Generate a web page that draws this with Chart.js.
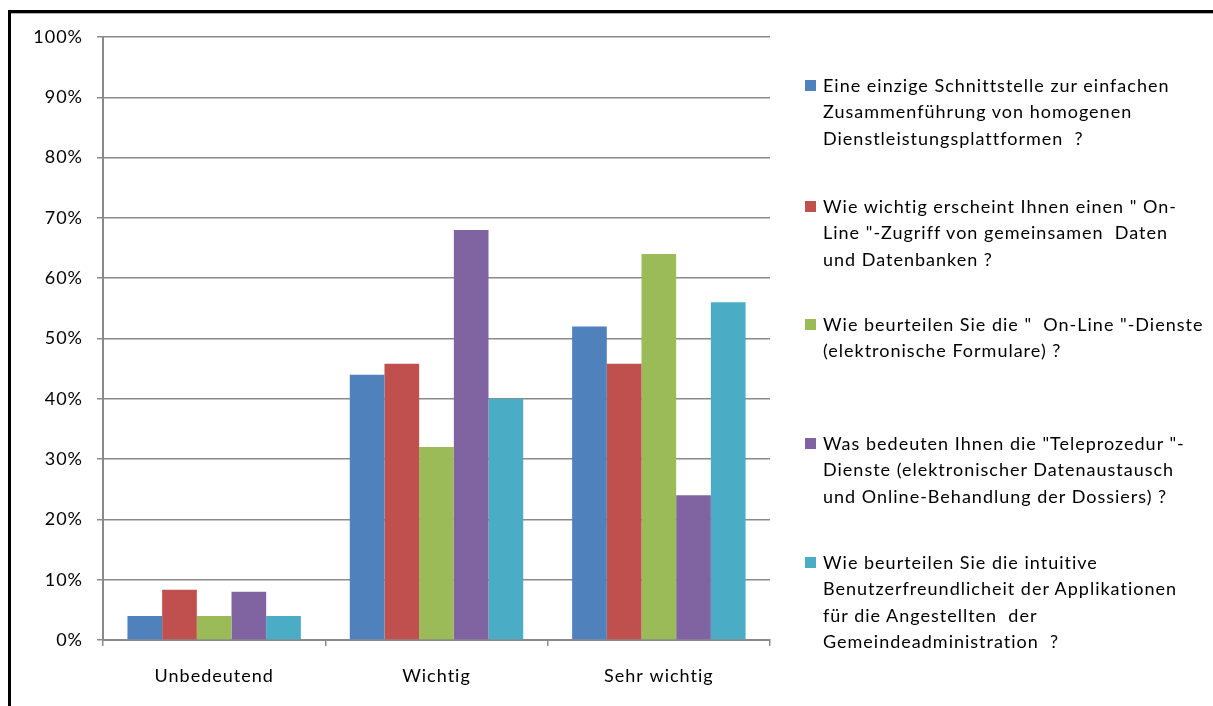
<!DOCTYPE html>
<html>
<head>
<meta charset="utf-8">
<script src="https://cdn.jsdelivr.net/npm/chart.js@4.4.1/dist/chart.umd.min.js"></script>
<style>
  html, body { margin: 0; padding: 0; background: #fff; overflow: hidden; }
  #wrap { position: relative; width: 1213px; height: 706px; }
  #frame { position: absolute; left: 8px; top: 10px; width: 1300px; height: 800px;
           border-top: 3px solid #000; border-left: 3px solid #000; box-sizing: border-box; }
  #frame:after { content: ""; position: absolute; left: 0; top: 0; right: 0; height: 1px; background: #b0b0b0; }
  canvas { position: absolute; left: 0; top: 0; }
  .leg { position: absolute; left: 805px; font-family: Lato, "Liberation Sans", sans-serif;
         font-size: 18px; line-height: 26.5px; color: #000; white-space: pre; letter-spacing: 1px; }
  .leg .sw { position: absolute; left: 0; top: 8px; width: 11px; height: 11px; }
  .leg .tx { position: absolute; left: 18px; top: 0; }
</style>
</head>
<body>
<div id="wrap">
  <div id="frame"></div>
  <canvas id="c" width="1213" height="706"></canvas>
</div>
<script>
// ---- data ----
const categories = ["Unbedeutend", "Wichtig", "Sehr wichtig"];
const seriesNames = [
  ["Eine einzige Schnittstelle zur einfachen", "Zusammenführung von homogenen", "Dienstleistungsplattformen  ?"],
  ["Wie wichtig erscheint Ihnen einen \" On-", "Line \"-Zugriff von gemeinsamen  Daten", "und Datenbanken ?"],
  ["Wie beurteilen Sie die \"  On-Line \"-Dienste", "(elektronische Formulare) ?"],
  ["Was bedeuten Ihnen die \"Teleprozedur \"-", "Dienste (elektronischer Datenaustausch", "und Online-Behandlung der Dossiers) ?"],
  ["Wie beurteilen Sie die intuitive", "Benutzerfreundlicheit der Applikationen", "für die Angestellten  der", "Gemeindeadministration  ?"]
];
const schnittstelle = [4, 44, 52];
const onlineZugriff = [8.33, 45.83, 45.83];
const onlineDienste = [4, 32, 64];
const teleprozedur = [8, 68, 24];
const benutzerfreundlichkeit = [4, 40, 56];
const yTicks = ["0%", "10%", "20%", "30%", "40%", "50%", "60%", "70%", "80%", "90%", "100%"];
const colors = ["#4F81BD", "#C0504D", "#9BBB59", "#8064A2", "#4BACC6"];

const seriesValues = [schnittstelle, onlineZugriff, onlineDienste, teleprozedur, benutzerfreundlichkeit];
const FONT = "Lato, 'Liberation Sans', sans-serif";
const GRID = "#8a8a8a";

const spacingPlugin = {
  id: "spacing",
  beforeUpdate(chart) { chart.ctx.letterSpacing = "1px"; },
  beforeDraw(chart) { chart.ctx.letterSpacing = "1px"; }
};

const chart = new Chart(document.getElementById("c"), {
  type: "bar",
  plugins: [spacingPlugin],
  data: {
    labels: categories,
    datasets: seriesValues.map((vals, i) => ({
      label: seriesNames[i].join(" "),
      data: vals,
      backgroundColor: colors[i],
      borderWidth: 0,
      categoryPercentage: 0.78,
      barPercentage: 1.0
    }))
  },
  options: {
    responsive: false,
    animation: false,
    layout: { padding: { left: 0, top: 37, right: 443, bottom: 0 } },
    plugins: { legend: { display: false }, tooltip: { enabled: false } },
    scales: {
      x: {
        grid: { display: true, drawOnChartArea: false, drawTicks: true, tickLength: 6, color: GRID, lineWidth: 1.5, offset: true },
        border: { display: true, color: GRID, width: 2 },
        ticks: { color: "#000", font: { family: FONT, size: 18 }, padding: 19, maxRotation: 0 },
        afterFit: (s) => { s.height = 66; }
      },
      y: {
        min: 0, max: 100,
        grid: { color: GRID, lineWidth: 1.5, tickLength: 6 },
        border: { display: true, color: GRID, width: 2 },
        ticks: {
          stepSize: 10, color: "#000", font: { family: FONT, size: 18 }, padding: 14,
          callback: (v) => yTicks[Math.round(v / 10)]
        },
        afterFit: (s) => { s.width = 103; }
      }
    }
  }
});

// HTML legend built from the dataset names and colours
const legendTops = [85, 206, 324, 443, 562];
const wrap = document.getElementById("wrap");
seriesNames.forEach((lines, i) => {
  const d = document.createElement("div");
  d.className = "leg";
  d.style.top = (legendTops[i] - 13.25) + "px";
  const sw = document.createElement("div");
  sw.className = "sw";
  sw.style.background = colors[i];
  const tx = document.createElement("div");
  tx.className = "tx";
  tx.textContent = lines.join("\n");
  d.appendChild(sw);
  d.appendChild(tx);
  wrap.appendChild(d);
});
</script>
</body>
</html>
